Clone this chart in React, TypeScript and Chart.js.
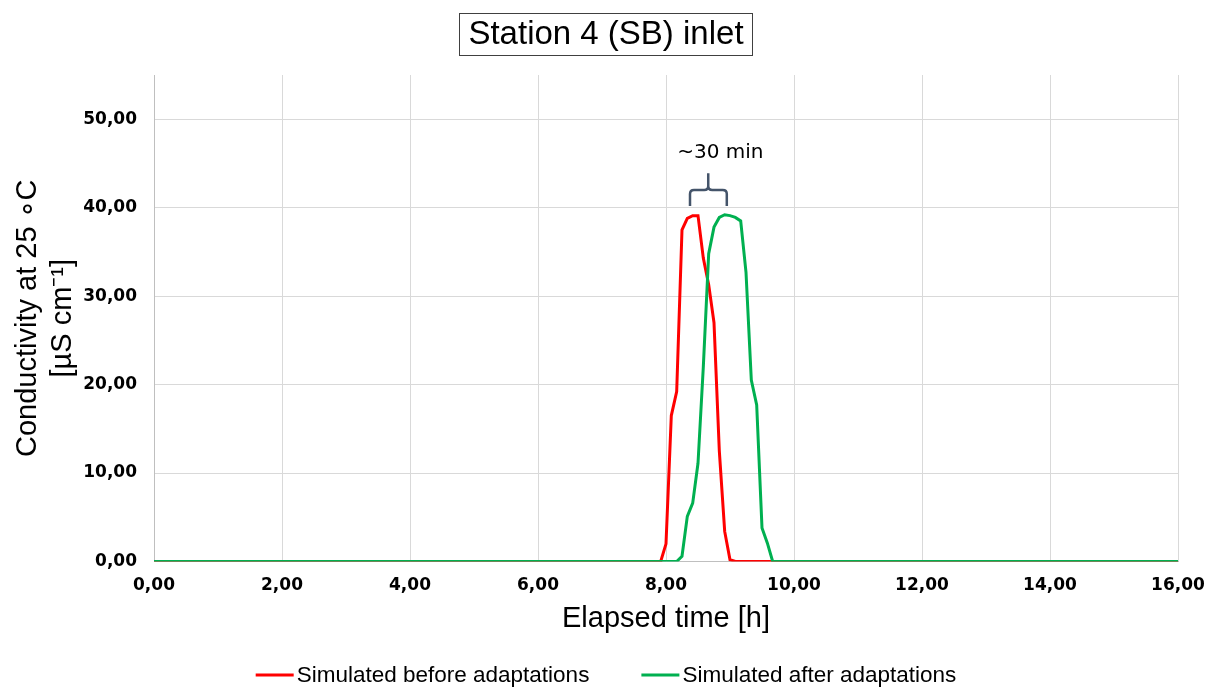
import React, { useEffect, useRef } from "react";
import { Chart, registerables } from "chart.js";

Chart.register(...registerables);

const chartTitle = "Station 4 (SB) inlet";
const xAxisTitle = "Elapsed time [h]";
const yAxisTitleLines = ["Conductivity at 25 \u2218C", "[\u00B5S cm\u207B\u00B9]"];
const annotationText = "~30 min";

const seriesLabels = ["Simulated before adaptations", "Simulated after adaptations"];
const seriesColors = ["#FF0000", "#00B050"];

const hoursBefore = [0, 7.917, 8.0, 8.083, 8.167, 8.25, 8.333, 8.417, 8.5, 8.583, 8.667, 8.75, 8.833, 8.917, 9.0, 9.083, 16];
const valuesBefore = [0, 0, 2.0, 16.5, 19.2, 37.5, 38.8, 39.1, 39.1, 34.3, 31.3, 27.0, 12.5, 3.4, 0.2, 0, 0];

const hoursAfter = [0, 8.167, 8.25, 8.333, 8.417, 8.5, 8.583, 8.667, 8.75, 8.833, 8.917, 9.0, 9.083, 9.167, 9.25, 9.333, 9.417, 9.5, 9.583, 9.667, 16];
const valuesAfter = [0, 0, 0.6, 5.1, 6.6, 11.1, 22.0, 34.8, 37.8, 38.9, 39.2, 39.1, 38.9, 38.5, 32.7, 20.5, 17.7, 3.8, 2.1, 0, 0];

// brace annotation (data coordinates): left/mid/right (h) and bottom/horizontal/tip (value)
const braceHours = [8.375, 8.66, 8.95];
const braceValues = [40.2, 42.0, 43.9];
const annotationPos = [8.85, 46.2];

const fmt = (v: number) => Number(v).toFixed(2).replace(".", ",");

const decorPlugin = {
  id: "decor",
  afterDraw(chart: any) {
    const ctx = chart.ctx;
    const ca = chart.chartArea;
    const xs = chart.scales.x;
    const ys = chart.scales.y;
    const W = chart.width;
    ctx.save();

    // Title with box
    ctx.font = "33px 'Liberation Sans', Arial, sans-serif";
    ctx.fillStyle = "#000";
    ctx.textAlign = "center";
    ctx.textBaseline = "middle";
    const tw = ctx.measureText(chartTitle).width;
    const cx = W / 2;
    ctx.fillText(chartTitle, cx, 35);
    ctx.strokeStyle = "#404040";
    ctx.lineWidth = 1;
    ctx.strokeRect(Math.round(cx - tw / 2 - 9) + 0.5, 13.5, Math.round(tw + 18), 42);

    // Y title
    ctx.save();
    ctx.translate(0, (ca.top + ca.bottom) / 2);
    ctx.rotate(-Math.PI / 2);
    ctx.font = "29px 'Liberation Sans', Arial, sans-serif";
    ctx.textAlign = "center";
    ctx.textBaseline = "middle";
    ctx.fillText(yAxisTitleLines[0], 0, 28);
    ctx.fillText(yAxisTitleLines[1], 0, 63);
    ctx.restore();

    // X title
    ctx.font = "29px 'Liberation Sans', Arial, sans-serif";
    ctx.textAlign = "center";
    ctx.textBaseline = "middle";
    ctx.fillText(xAxisTitle, (ca.left + ca.right) / 2, 619);

    // Brace
    const x1 = xs.getPixelForValue(braceHours[0]);
    const xm = xs.getPixelForValue(braceHours[1]);
    const x2 = xs.getPixelForValue(braceHours[2]);
    const yb = ys.getPixelForValue(braceValues[0]);
    const yh = ys.getPixelForValue(braceValues[1]);
    const yt = ys.getPixelForValue(braceValues[2]);
    const r = 4;
    ctx.strokeStyle = "#44546A";
    ctx.lineWidth = 2.5;
    ctx.lineCap = "butt";
    ctx.beginPath();
    ctx.moveTo(x1, yb);
    ctx.lineTo(x1, yh + r);
    ctx.quadraticCurveTo(x1, yh, x1 + r, yh);
    ctx.lineTo(xm - r, yh);
    ctx.quadraticCurveTo(xm, yh, xm, yh - r);
    ctx.lineTo(xm, yt);
    ctx.moveTo(xm, yh - r);
    ctx.quadraticCurveTo(xm, yh, xm + r, yh);
    ctx.lineTo(x2 - r, yh);
    ctx.quadraticCurveTo(x2, yh, x2, yh + r);
    ctx.lineTo(x2, yb);
    ctx.stroke();

    ctx.font = "20px 'DejaVu Sans', Verdana, sans-serif";
    ctx.fillStyle = "#000";
    ctx.textAlign = "center";
    ctx.textBaseline = "middle";
    ctx.fillText(annotationText, xs.getPixelForValue(annotationPos[0]), ys.getPixelForValue(annotationPos[1]));

    // Legend
    ctx.font = "22.5px 'Liberation Sans', Arial, sans-serif";
    ctx.textBaseline = "middle";
    ctx.textAlign = "left";
    const lineW = 38;
    const gapT = 3;
    const gapItems = 52;
    const ds = chart.data.datasets;
    const widths = ds.map((d: any) => lineW + gapT + ctx.measureText(d.label).width);
    const total = widths.reduce((a: number, b: number) => a + b, 0) + gapItems * (ds.length - 1);
    let lx = W / 2 - total / 2;
    const ly = 675;
    ds.forEach((d: any, i: number) => {
      ctx.strokeStyle = d.borderColor;
      ctx.lineWidth = 3;
      ctx.beginPath();
      ctx.moveTo(lx, ly);
      ctx.lineTo(lx + lineW, ly);
      ctx.stroke();
      ctx.fillStyle = "#000";
      ctx.fillText(d.label, lx + lineW + gapT, ly + 1);
      lx += widths[i] + gapItems;
    });

    ctx.restore();
  },
};

export default function App() {
  const ref = useRef<HTMLCanvasElement | null>(null);

  useEffect(() => {
    if (!ref.current) return;
    const chart = new Chart(ref.current, {
      type: "line",
      data: {
        datasets: [
          {
            label: seriesLabels[0],
            data: hoursBefore.map((h, i) => ({ x: h, y: valuesBefore[i] })),
            borderColor: seriesColors[0],
            backgroundColor: seriesColors[0],
            borderWidth: 3,
            pointRadius: 0,
            tension: 0,
            order: 1,
          },
          {
            label: seriesLabels[1],
            data: hoursAfter.map((h, i) => ({ x: h, y: valuesAfter[i] })),
            borderColor: seriesColors[1],
            backgroundColor: seriesColors[1],
            borderWidth: 3,
            pointRadius: 0,
            tension: 0,
            order: 0,
          },
        ],
      },
      options: {
        responsive: false,
        animation: false,
        layout: { padding: { top: 75, right: 34, left: 0, bottom: 0 } },
        plugins: {
          legend: { display: false },
          title: { display: false },
          tooltip: { enabled: false },
        },
        scales: {
          x: {
            type: "linear",
            min: 0,
            max: 16,
            ticks: {
              stepSize: 2,
              callback: (v: any) => fmt(v),
              font: { family: "'DejaVu Sans', Verdana, sans-serif", size: 17, weight: "bold" },
              color: "#000",
              padding: 14,
              maxRotation: 0,
            },
            grid: { color: "#D9D9D9", lineWidth: 1, drawTicks: false },
            border: { display: true, color: "#BFBFBF", width: 1 },
            afterFit: (s: any) => {
              s.height = 126.5;
              s.paddingLeft = 0;
              s.paddingRight = 0;
            },
          },
          y: {
            type: "linear",
            min: 0,
            max: 55,
            afterBuildTicks: (s: any) => {
              s.ticks = s.ticks.filter((t: any) => t.value <= 50);
            },
            ticks: {
              stepSize: 10,
              callback: (v: any) => fmt(v),
              font: { family: "'DejaVu Sans', Verdana, sans-serif", size: 17, weight: "bold" },
              color: "#000",
              padding: 17,
            },
            grid: { color: "#D9D9D9", lineWidth: 1, drawTicks: false },
            border: { display: true, color: "#BFBFBF", width: 1 },
            afterFit: (s: any) => {
              s.width = 154;
              s.paddingTop = 0;
              s.paddingBottom = 0;
            },
          },
        },
      },
      plugins: [decorPlugin],
    } as any);
    return () => chart.destroy();
  }, []);

  return (
    <div style={{ position: "absolute", left: 0, top: 0, width: 1212, height: 688, background: "#fff" }}>
      <canvas ref={ref} width={1212} height={688} style={{ display: "block" }} />
    </div>
  );
}
